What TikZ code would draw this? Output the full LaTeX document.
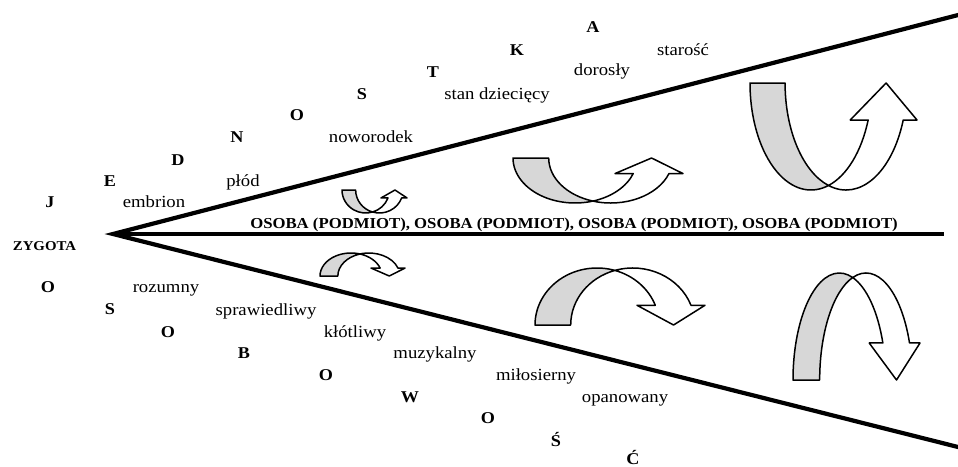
\documentclass[tikz,border=0pt]{standalone}
\usepackage{fontspec}
\setmainfont{Liberation Serif}[FakeStretch=1.1]
\definecolor{arrgray}{RGB}{215,215,215}
\tikzset{
  word/.style={anchor=base, inner sep=0pt, font=\fontsize{17}{20}\selectfont},
  letter/.style={anchor=base, inner sep=0pt, font=\fontsize{16.5}{20}\selectfont\bfseries},
  mainline/.style={line width=4.2pt, line join=miter},
  arrface/.style={draw=black, line width=1.5pt, line join=round}
}
% unit ribbon arrow in a 100 x 100 box (curve bottom at y=0, tail and tip at y=100)
\newcommand{\ribbonarrow}[1]{%
  \begin{scope}[#1]
    \draw[arrface, fill=arrgray] (0,100)
      arc[start angle=180, end angle=286.72, x radius=36.5, y radius=100]
      arc[start angle=253.28, end angle=180, x radius=36.5, y radius=100] -- cycle;
    \draw[arrface, fill=white] (47.0,4.23)
      arc[start angle=286.72, end angle=339.76, x radius=36.5, y radius=100]
      -- (60,65.4) -- (81.5,100) -- (100,65.4) -- (91.75,65.4)
      arc[start angle=339.76, end angle=253.28, x radius=36.5, y radius=100] -- cycle;
  \end{scope}}
\begin{document}
\begin{tikzpicture}[x=1pt,y=1pt]
\useasboundingbox (0,0) rectangle (958,-466);
\clip (0,0) rectangle (958,-466);
\fill[white] (0,0) rectangle (958,-466);

% main lines
\coordinate (apex) at (113,-234);
\coordinate (upend) at (962,-14);
\coordinate (lowend) at (962,-448);
\coordinate (midend) at (944,-234);
\draw[mainline] (upend) -- (apex) -- (lowend);
\draw[mainline, line width=4pt] (apex) -- (midend);

% curved arrows
\ribbonarrow{shift={(342,-213)}, xscale=0.65, yscale=0.23}
\ribbonarrow{shift={(513,-203)}, xscale=1.70, yscale=0.45}
\ribbonarrow{shift={(750,-190)}, xscale=1.67, yscale=1.07}
\ribbonarrow{shift={(320,-253)}, xscale=0.85, yscale=-0.23}
\ribbonarrow{shift={(535,-268)}, xscale=1.70, yscale=-0.57}
\ribbonarrow{shift={(793,-273)}, xscale=1.27, yscale=-1.07}

% central text
\node[anchor=base, inner sep=0pt, font=\fontsize{15.2}{18}\selectfont\bfseries] (osoba) at (574,-228)
  {OSOBA (PODMIOT), OSOBA (PODMIOT), OSOBA (PODMIOT), OSOBA (PODMIOT)};
\node[anchor=base, inner sep=0pt, font=\fontsize{13.5}{16}\selectfont\bfseries] (zyg) at (44.5,-250) {ZYGOTA};

% upper letters
\node[letter] (u1) at (50,-207) {J};
\node[letter] (u2) at (110,-186) {E};
\node[letter] (u3) at (178,-165) {D};
\node[letter] (u4) at (237,-142) {N};
\node[letter] (u5) at (297,-120) {O};
\node[letter] (u6) at (362,-99) {S};
\node[letter] (u7) at (433,-77) {T};
\node[letter] (u8) at (517,-55) {K};
\node[letter] (u9) at (593,-32) {A};

% upper words
\node[word] (w1) at (154,-207) {embrion};
\node[word] (w2) at (243,-186) {płód};
\node[word] (w3) at (371,-142) {noworodek};
\node[word] (w4) at (497,-99) {stan dziecięcy};
\node[word] (w5) at (602,-75) {dorosły};
\node[word] (w6) at (683,-55) {starość};

% lower letters
\node[letter] (d1) at (48,-292) {O};
\node[letter] (d2) at (110,-314) {S};
\node[letter] (d3) at (168,-337) {O};
\node[letter] (d4) at (244,-358) {B};
\node[letter] (d5) at (326,-380) {O};
\node[letter] (d6) at (410,-402) {W};
\node[letter] (d7) at (488,-423) {O};
\node[letter] (d8) at (556,-446) {Ś};
\node[letter] (d9) at (633,-464) {Ć};

% lower words
\node[word] (v1) at (166,-292) {rozumny};
\node[word] (v2) at (266,-315) {sprawiedliwy};
\node[word] (v3) at (355,-337) {kłótliwy};
\node[word] (v4) at (435,-358) {muzykalny};
\node[word] (v5) at (536,-380) {miłosierny};
\node[word] (v6) at (625,-402) {opanowany};
\end{tikzpicture}
\end{document}
